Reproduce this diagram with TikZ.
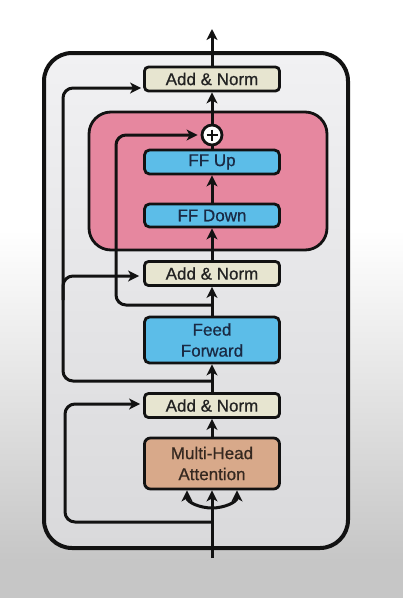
\documentclass[tikz,border=0pt]{standalone}
\usepackage{fontspec}
\setmainfont{Liberation Sans}
\newfontfamily\lblfont[FakeBold=0.7]{Liberation Sans}
\usetikzlibrary{arrows.meta,calc}
\definecolor{lc}{HTML}{121212}
\definecolor{ancol}{HTML}{E7E5D0}
\definecolor{antext}{HTML}{222222}
\definecolor{blcol}{HTML}{5CBDE8}
\definecolor{bltext}{HTML}{1A2A44}
\definecolor{mhcol}{HTML}{D8A98A}
\definecolor{mhtext}{HTML}{352820}
\definecolor{pinkcol}{HTML}{E6879F}
\definecolor{bggray}{HTML}{C6C6C6}
\definecolor{boxtop}{HTML}{F1F1F3}
\definecolor{boxbot}{HTML}{D9D9DB}
\begin{document}
\begin{tikzpicture}[x=1pt,y=-1pt,
  box/.style={draw=lc, line width=2.8pt, rounded corners=4pt, minimum width=135pt,
    inner sep=0pt, font=\lblfont\fontsize{17}{21}\selectfont, align=center},
  an/.style={box, fill=ancol, minimum height=24pt, text=antext},
  bl/.style={box, fill=blcol, text=bltext, rounded corners=5pt},
  mh/.style={box, fill=mhcol, text=mhtext, minimum height=51pt, rounded corners=6pt},
  plusc/.style={circle, draw=lc, fill=white, line width=2.8pt, minimum size=20pt, inner sep=0pt},
  ln/.style={line width=3pt, draw=lc},
  arr/.style={ln, -{Stealth[length=11pt,width=11pt,inset=3pt]}},
  res/.style={arr, rounded corners=10pt}]
% background
\useasboundingbox (0,0) rectangle (403,598);
\fill[white] (0,0) rectangle (403,231);
\shade[top color=white, bottom color=bggray] (0,230) rectangle (403,561);
\fill[bggray] (0,560) rectangle (403,598);
% containers
\draw[line width=4pt, draw=lc, rounded corners=28pt, top color=boxtop, bottom color=boxbot] (44,53) rectangle (348,548);
\draw[line width=2.8pt, draw=lc, fill=pinkcol, rounded corners=22pt] (89,112) rectangle (327,250);
% nodes
\node[an] (an3) at (212,79) {Add \& Norm};
\node[plusc] (pl) at (212,135) {};
\draw[line width=2.2pt, draw=lc] ($(pl.center)+(-5.5,0)$) -- ($(pl.center)+(5.5,0)$);
\draw[line width=2.2pt, draw=lc] ($(pl.center)+(0,-5.5)$) -- ($(pl.center)+(0,5.5)$);
\node[bl, minimum height=24pt] (up) at (212,162) {FF Up};
\node[bl, minimum height=23pt] (down) at (212,215.5) {FF Down};
\node[an] (an2) at (212,273.5) {Add \& Norm};
\node[bl, minimum height=46pt] (ff) at (212,340) {Feed\\Forward};
\node[an] (an1) at (212,405.5) {Add \& Norm};
\node[mh] (mha) at (212,463.5) {Multi-Head\\Attention};
% coordinates
\coordinate (in) at (212,558);
\coordinate (out) at (212,29);
\coordinate (b0) at (212,508);
\coordinate (b1) at (212,522);
\coordinate (b2) at (212,381);
\coordinate (b3) at (212,305);
\coordinate (c1) at (65,460);
\coordinate (c2) at (63,300);
\coordinate (c3) at (116,220);
% main path
\draw[arr] (in) -- (mha.south);
\draw[arr] (b0) to[out=180,in=-90] ([xshift=-25pt]mha.south);
\draw[arr] (b0) to[out=0,in=-90] ([xshift=25pt]mha.south);
\draw[arr] (mha) -- (an1);
\draw[arr] (an1) -- (ff);
\draw[arr] (ff) -- (an2);
\draw[arr] (an2) -- (down);
\draw[arr] (down) -- (up);
\draw[ln] (up) -- (pl);
\draw[arr] (pl) -- (an3);
\draw[arr] (an3) -- (out);
% residuals
\draw[res] (b1) -| (c1) |- ([xshift=-3pt,yshift=1.5pt]an1.west);
\draw[res] (b2) -| (c2) |- ([xshift=-2pt,yshift=-9pt]an3.west);
\draw[res] (c2) |- ([xshift=-4pt,yshift=-2.5pt]an2.west);
\draw[res] (b3) -| (c3) |- ([xshift=-3pt]pl.west);
\end{tikzpicture}
\end{document}
